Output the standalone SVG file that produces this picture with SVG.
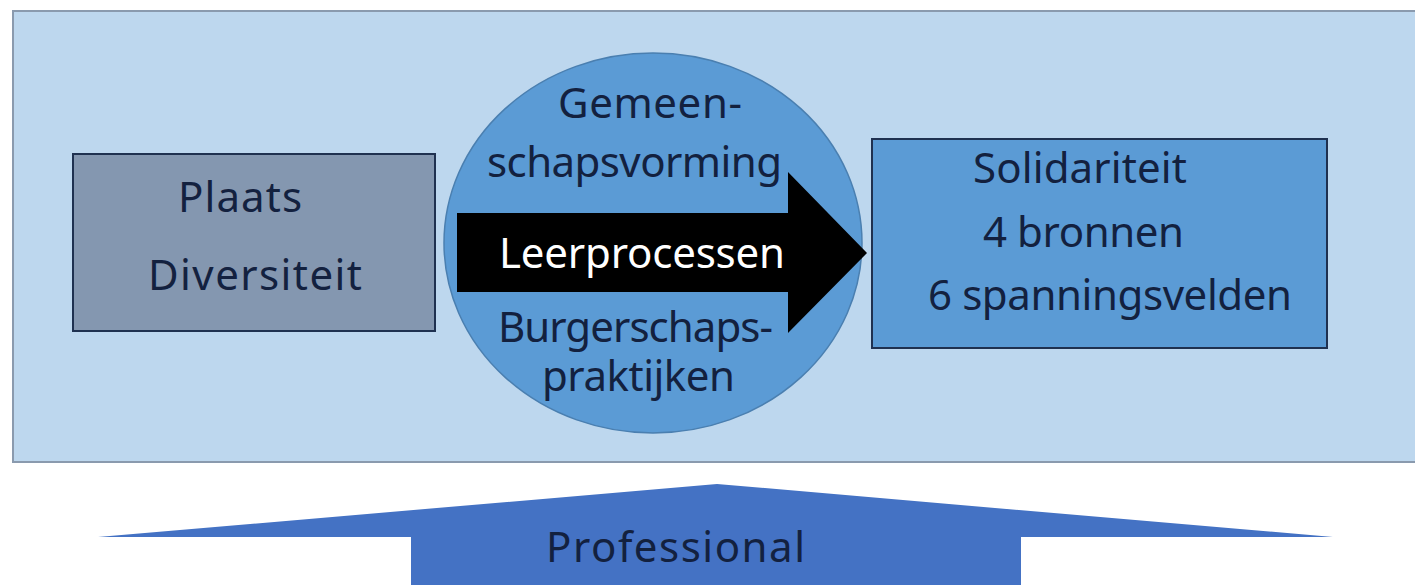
<svg xmlns="http://www.w3.org/2000/svg" width="1415" height="585" viewBox="0 0 1415 585">
<style>
text{font-family:"Noto Sans","Open Sans","Liberation Sans",sans-serif;font-size:42px;fill:#13213f}
.w{fill:#ffffff}
</style>
<rect x="0" y="0" width="1415" height="585" fill="#ffffff"/>
<g id="background">
<rect x="13" y="11" width="1410" height="451" fill="#bdd7ee" stroke="#8a9aae" stroke-width="2"/>
</g>
<g id="plaats">
<rect x="73" y="154" width="362" height="177" fill="#8497b0" stroke="#1f3150" stroke-width="2"/>
<text x="178" y="212" textLength="124">Plaats</text>
<text x="148" y="290" textLength="214">Diversiteit</text>
</g>
<g id="leerprocessen">
<ellipse cx="653" cy="243" rx="209" ry="190" fill="#5b9bd5" stroke="#4a7fb0" stroke-width="1.5"/>
<text x="558" y="118" textLength="184">Gemeen-</text>
<text x="487" y="177" textLength="295">schapsvorming</text>
<polygon points="457,213 788,213 788,172 867,253 788,333 788,292 457,292" fill="#000000"/>
<text class="w" x="499" y="268" textLength="286">Leerprocessen</text>
<text x="498" y="342" textLength="275">Burgerschaps-</text>
<text x="542" y="391" textLength="193">praktijken</text>
</g>
<g id="solidariteit">
<rect x="872" y="139" width="455" height="209" fill="#5b9bd5" stroke="#1f3150" stroke-width="2"/>
<text x="973" y="183" textLength="214">Solidariteit</text>
<text x="983" y="247" textLength="201">4 bronnen</text>
<text x="928" y="310" textLength="364">6 spanningsvelden</text>
</g>
<g id="professional">
<polygon points="717,484 1333,537 1021,537 1021,585 411,585 411,537 98,537" fill="#4472c4"/>
<text x="546" y="562" textLength="259">Professional</text>
</g>
<g id="connectors"></g>
</svg>
